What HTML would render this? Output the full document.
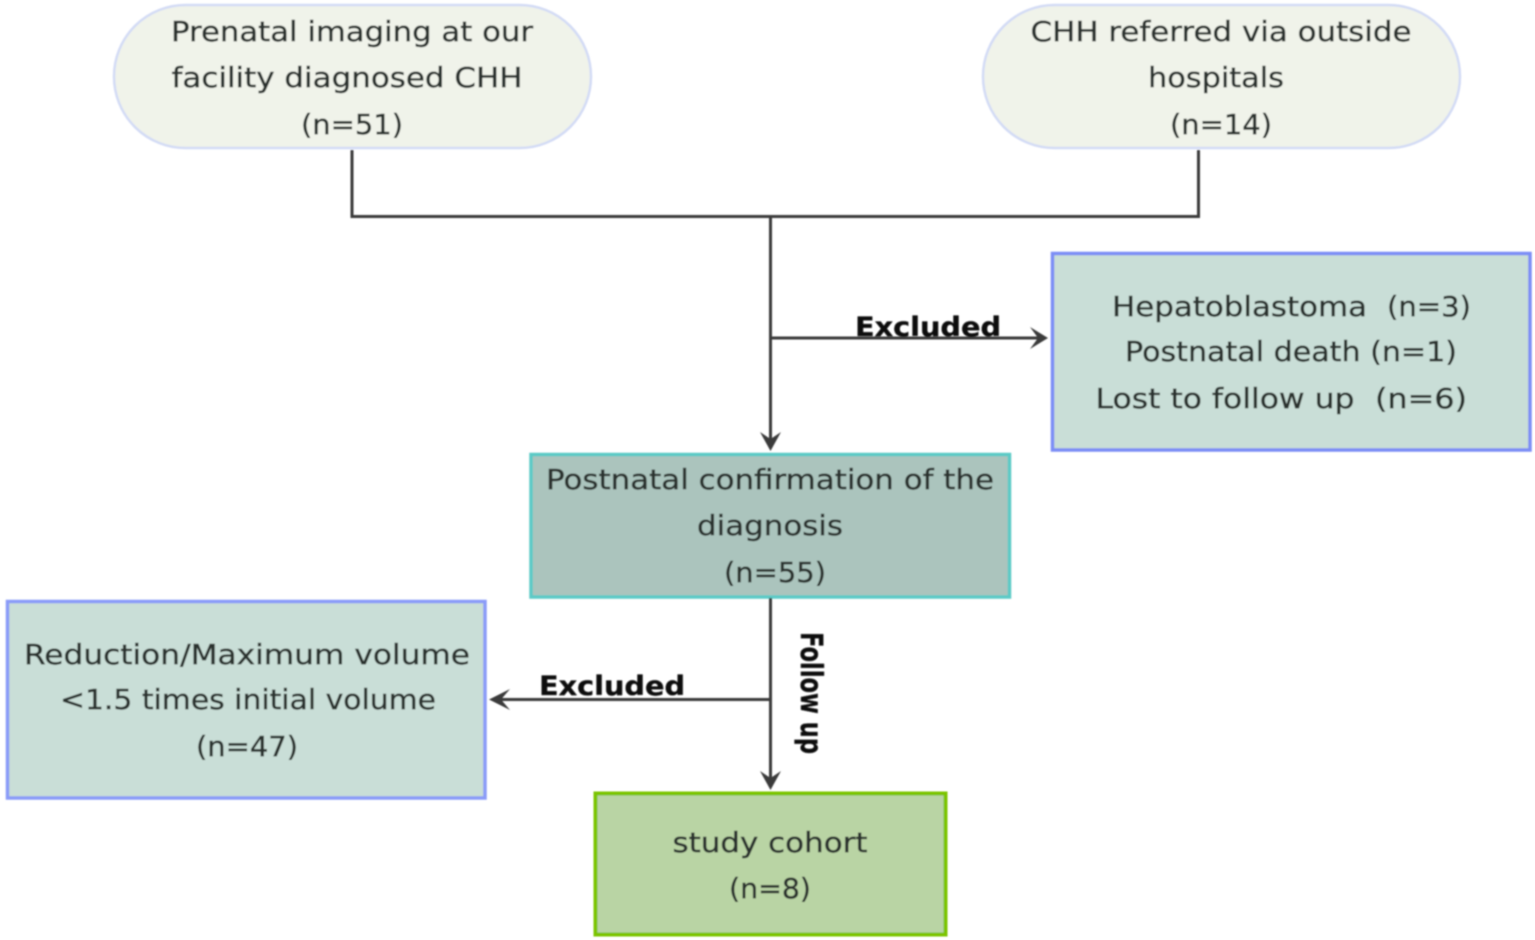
<!DOCTYPE html>
<html>
<head>
<meta charset="utf-8">
<style>
html,body{margin:0;padding:0;background:#fff;width:1535px;height:940px;overflow:hidden}
svg{display:block}
text{font-family:"DejaVu Sans","Liberation Sans",sans-serif;font-size:28px;fill:#2b322f;stroke:#2b322f;stroke-width:.45px;text-anchor:middle}
.b{font-weight:bold;fill:#0c0c0c;stroke:#0c0c0c;stroke-width:.3px;font-size:27px}
.f{font-size:30px}
</style>
</head>
<body>
<svg width="1535" height="940" viewBox="0 0 1535 940" xmlns="http://www.w3.org/2000/svg">
<defs><filter id="s" x="-5%" y="-5%" width="110%" height="110%"><feGaussianBlur stdDeviation="0.8"/></filter></defs>
<g filter="url(#s)">
<rect x="114" y="5" width="477" height="143" rx="71.5" fill="#f0f3ea" stroke="#d3dbf5" stroke-width="2.5"/>
<rect x="983" y="5" width="477" height="143" rx="71.5" fill="#f0f3ea" stroke="#d3dbf5" stroke-width="2.5"/>
<rect x="1052.500" y="253.500" width="477.500" height="196.500" fill="#c9ded7" stroke="#7b8df5" stroke-width="3.500"/>
<rect x="531" y="454.500" width="478.500" height="142.500" fill="#abc4bd" stroke="#5ccac6" stroke-width="3.500"/>
<rect x="7.500" y="601.500" width="477.500" height="196.500" fill="#c9ded7" stroke="#8a9bf8" stroke-width="3.500"/>
<rect x="595.500" y="793.500" width="350" height="141" fill="#b9d4a4" stroke="#7cc400" stroke-width="4"/>

<g fill="none" stroke="#3a3a3a" stroke-width="3">
<path d="M352 150V216.500H1198.500V150"/>
<path d="M770.500 216V440"/>
<path d="M770 338H1038"/>
<path d="M770.500 598V780"/>
<path d="M770 699.500H500"/>
</g>
<g fill="#3a3a3a">
<path d="M760 432L770.500 439L781 432L770.500 451Z"/>
<path d="M1030 327L1038 338L1030 349L1048 338Z"/>
<path d="M760 771L770.500 778L781 771L770.500 790Z"/>
<path d="M510 689L501 699.500L510 710L489 699.500Z"/>
</g>

<text x="352" y="41" textLength="362" lengthAdjust="spacingAndGlyphs">Prenatal imaging at our</text>
<text x="347" y="87" textLength="351" lengthAdjust="spacingAndGlyphs">facility diagnosed CHH</text>
<text x="352" y="134" textLength="102" lengthAdjust="spacingAndGlyphs">(n=51)</text>

<text x="1221" y="41" textLength="381" lengthAdjust="spacingAndGlyphs">CHH referred via outside</text>
<text x="1216" y="87" textLength="136" lengthAdjust="spacingAndGlyphs">hospitals</text>
<text x="1221" y="134" textLength="102" lengthAdjust="spacingAndGlyphs">(n=14)</text>

<text x="1239.500" y="316" textLength="255" lengthAdjust="spacingAndGlyphs">Hepatoblastoma</text>
<text x="1429" y="316" textLength="84" lengthAdjust="spacingAndGlyphs">(n=3)</text>
<text x="1291" y="361" textLength="332" lengthAdjust="spacingAndGlyphs">Postnatal death (n=1)</text>
<text x="1225" y="408" textLength="259" lengthAdjust="spacingAndGlyphs">Lost to follow up</text>
<text x="1421" y="408" textLength="92" lengthAdjust="spacingAndGlyphs">(n=6)</text>

<text x="770" y="489" textLength="448" lengthAdjust="spacingAndGlyphs">Postnatal confirmation of the</text>
<text x="770" y="535" textLength="146" lengthAdjust="spacingAndGlyphs">diagnosis</text>
<text x="775" y="582" textLength="102" lengthAdjust="spacingAndGlyphs">(n=55)</text>

<text x="247" y="664" textLength="446" lengthAdjust="spacingAndGlyphs">Reduction/Maximum volume</text>
<text x="248" y="709" textLength="376" lengthAdjust="spacingAndGlyphs">&lt;1.5 times initial volume</text>
<text x="247" y="756" textLength="102" lengthAdjust="spacingAndGlyphs">(n=47)</text>

<text x="770" y="852" textLength="195" lengthAdjust="spacingAndGlyphs">study cohort</text>
<text x="770" y="898" textLength="82" lengthAdjust="spacingAndGlyphs">(n=8)</text>

<text class="b" x="928" y="336" textLength="146" lengthAdjust="spacingAndGlyphs">Excluded</text>
<text class="b" x="612" y="695" textLength="146" lengthAdjust="spacingAndGlyphs">Excluded</text>
<text class="b f" transform="translate(801 693) rotate(90)" x="0" y="0" textLength="122" lengthAdjust="spacingAndGlyphs">Follow up</text>
</g>
</svg>
</body>
</html>
